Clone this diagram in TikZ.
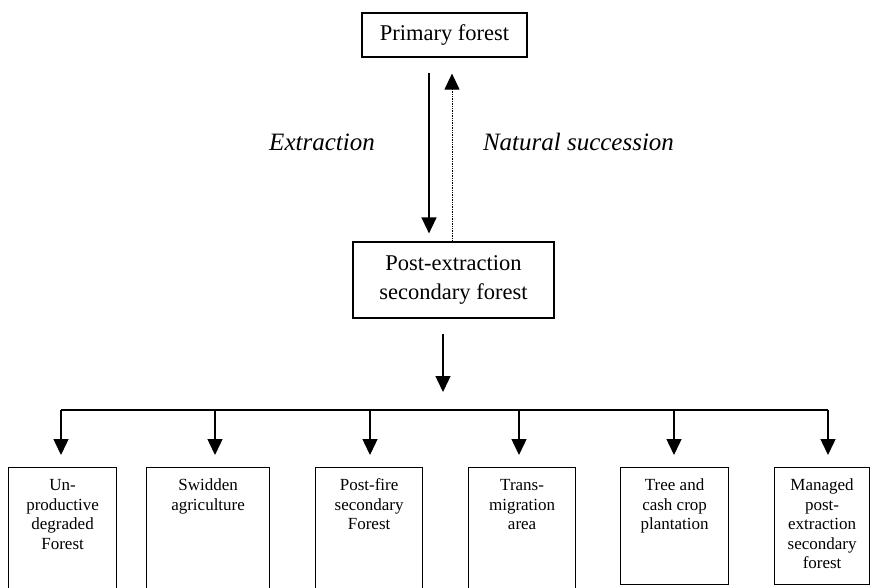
\documentclass[tikz,border=0pt]{standalone}
\usepackage{fontspec}
\setmainfont{Liberation Serif}
\usetikzlibrary{arrows.meta, positioning}

\newcommand{\cell}[3]{\parbox[t][#2][t]{#1}{\centering\strut #3}}

\tikzset{
  box/.style={draw, line width=1.2pt, inner sep=6pt, font=\fontsize{22.5}{29}\selectfont},
  leaf/.style={draw, line width=1.2pt, inner xsep=6pt, inner ysep=9.5pt, anchor=north west, font=\fontsize{17}{19.5}\selectfont},
  arr/.style={-{Triangle[width=15pt,length=16pt]}, line width=1.4pt},
  lbl/.style={anchor=base, font=\fontsize{25}{29}\selectfont\itshape}
}

\begin{document}
\begin{tikzpicture}[x=1pt, y=-1pt]
    \clip (0,0) rectangle (876,587);

    \node[box, minimum width=165pt, minimum height=44pt] (primary) at (444.5,35) {Primary forest};
    \node[box, align=center, minimum width=201pt, minimum height=76pt] (post) at (453.5,280) {Post-extraction\\secondary forest};

    \coordinate (ext) at (429,0);
    \coordinate (nat) at (452,0);
    \draw[arr, shorten <=15pt, shorten >=8pt] (primary.south -| ext) -- (post.north -| ext);
    \draw[arr, densely dotted, line width=1pt, shorten >=16pt] (post.north -| nat) -- (primary.south -| nat);

    \node[lbl] (extraction) at (322,150) {Extraction};
    \node[lbl] (succession) at (578.5,150) {Natural succession};

    % bus to the six outcomes
    \coordinate (bus) at (443,410);
    \draw[arr, shorten <=15pt, shorten >=18pt] (post.south -| bus) -- (bus);

    \node[leaf] (unprod)  at (8,467)   {\cell{96pt}{140pt}{Un-\\productive\\degraded\\Forest}};
    \node[leaf] (swidden) at (146,467) {\cell{111pt}{140pt}{Swidden\\agriculture}};
    \node[leaf] (fire)    at (315,467) {\cell{95pt}{140pt}{Post-fire\\secondary\\Forest}};
    \node[leaf] (trans)   at (468,467) {\cell{95pt}{140pt}{Trans-\\migration\\area}};
    \node[leaf] (tree)    at (620,467) {\cell{96pt}{98pt}{Tree and\\cash crop\\plantation}};
    \node[leaf] (managed) at (774,467) {\cell{83pt}{98pt}{Managed\\post-\\extraction\\secondary\\forest}};

    \coordinate (b1) at (61,410);
    \coordinate (b6) at (828,410);
    \draw[line width=1.4pt] (b1) -- (b6);

    \foreach \x/\n in {61/unprod, 215/swidden, 370/fire, 519/trans, 674/tree, 828/managed}
        \draw[arr, shorten >=12pt] (\x,410) -- (\x,410 |- \n.north);

\end{tikzpicture}
\end{document}
